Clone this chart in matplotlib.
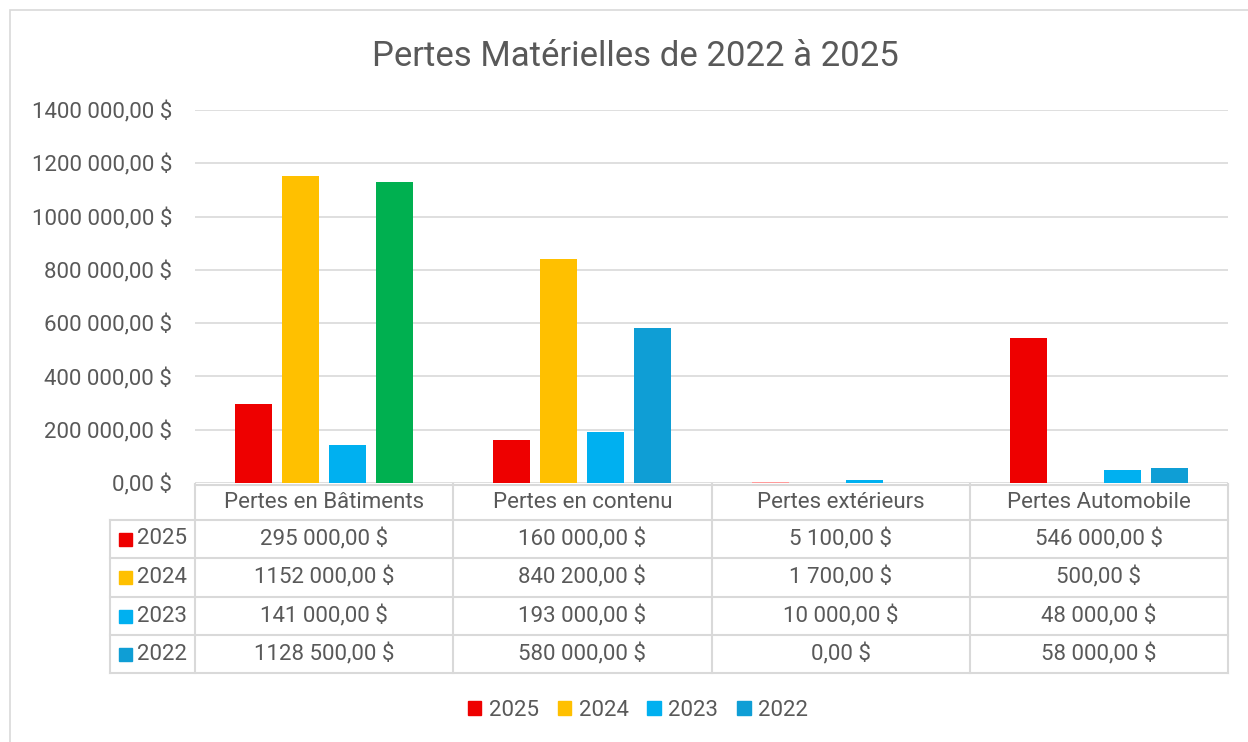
import matplotlib
matplotlib.use("Agg")
from matplotlib import pyplot as plt
from matplotlib.patches import Rectangle
import numpy as np

plt.rcParams['font.family'] = ['Roboto', 'DejaVu Sans']

categories = ["Pertes en Bâtiments", "Pertes en contenu", "Pertes extérieurs", "Pertes Automobile"]
years = ["2025", "2024", "2023", "2022"]
v2025 = [295000, 160000, 5100, 546000]
v2024 = [1152000, 840200, 1700, 500]
v2023 = [141000, 193000, 10000, 48000]
v2022 = [1128500, 580000, 0, 58000]
series = [v2025, v2024, v2023, v2022]
colors = ["#EE0000", "#FFC000", "#00B0F0", "#0F9ED5"]
# per-point overrides seen in the chart
point_colors = {(3, 0): "#00B050", (0, 2): "#FF9B9B"}

TXT = "#595959"
GRID = "#D9D9D9"
W, H = 1248, 742
FS = 16


def fmt(v):
    v = int(round(v))
    if v >= 1000:
        return "%d %03d,00 $" % (v // 1000, v % 1000)
    return "%d,00 $" % v


def fx(px):
    return px / W


def fy(py):
    return 1 - py / H


fig = plt.figure(figsize=(12.48, 7.42), dpi=100)
fig.patch.set_facecolor("white")

# outer chart border
fig.add_artist(Rectangle((fx(10), fy(760)), fx(1260) - fx(10), fy(10) - fy(760),
                         transform=fig.transFigure, fill=False, edgecolor=GRID, lw=1.2))

left, right, top, bottom = 195, 1228, 110, 483
ax = fig.add_axes([fx(left), fy(bottom), fx(right) - fx(left), fy(top) - fy(bottom)])
ax.set_ylim(0, 1400000)
ax.set_xlim(0, 4)
ticks = np.arange(0, 1400001, 200000)
ax.set_yticks(ticks)
ax.set_yticklabels([fmt(t) for t in ticks], color=TXT, fontsize=FS)
ax.tick_params(axis="y", length=0, pad=16.5)
ax.set_xticks([])
ax.grid(axis="y", color=GRID, lw=1.2)
ax.set_axisbelow(True)
for s in ax.spines.values():
    s.set_visible(False)

bw = 37 / 258.25
step = 47 / 258.25
x = np.arange(4) + 0.5
for i, vals in enumerate(series):
    pos = x + (i - 1.5) * step
    cols = [point_colors.get((i, j), colors[i]) for j in range(4)]
    ax.bar(pos, vals, width=bw, color=cols, zorder=3)

# data table
lkw = dict(color=GRID, lw=1.5, transform=fig.transFigure)
cols_x = [left + k * (right - left) / 4 for k in range(5)]
rows_y = [484, 520, 558, 597, 635, 673]
fig.add_artist(plt.Line2D([fx(left), fx(right)], [fy(484.5), fy(484.5)], **lkw))
for yy in rows_y[1:]:
    fig.add_artist(plt.Line2D([fx(110), fx(right)], [fy(yy), fy(yy)], **lkw))
fig.add_artist(plt.Line2D([fx(110), fx(110)], [fy(520), fy(673)], **lkw))
for xx in cols_x:
    fig.add_artist(plt.Line2D([fx(xx), fx(xx)], [fy(484), fy(673)], **lkw))

for j, c in enumerate(categories):
    cx = (cols_x[j] + cols_x[j + 1]) / 2
    fig.text(fx(cx), fy(502), c, ha="center", va="center", color=TXT, fontsize=FS)
for i, vals in enumerate(series):
    cy = (rows_y[i + 1] + rows_y[i + 2]) / 2
    fig.add_artist(Rectangle((fx(119), fy(cy + 6.5)), fx(13), 13 / H,
                             transform=fig.transFigure, color=colors[i]))
    fig.text(fx(137), fy(cy), years[i], ha="left", va="center", color=TXT, fontsize=FS)
    for j, v in enumerate(vals):
        cx = (cols_x[j] + cols_x[j + 1]) / 2
        fig.text(fx(cx), fy(cy), fmt(v), ha="center", va="center", color=TXT, fontsize=FS)

# legend
handles = [Rectangle((0, 0), 1, 1, color=c) for c in colors]
fig.legend(handles, years, loc="center", bbox_to_anchor=(fx(638), fy(710)), ncol=4,
           frameon=False, fontsize=FS, labelcolor=TXT, handlelength=0.6, handleheight=0.6,
           handletextpad=0.35, columnspacing=0.85)

fig.text(fx(635), fy(56), "Pertes Matérielles de 2022 à 2025", ha="center", va="center",
         color=TXT, fontsize=25)

fig.savefig("out.png", dpi=100)
